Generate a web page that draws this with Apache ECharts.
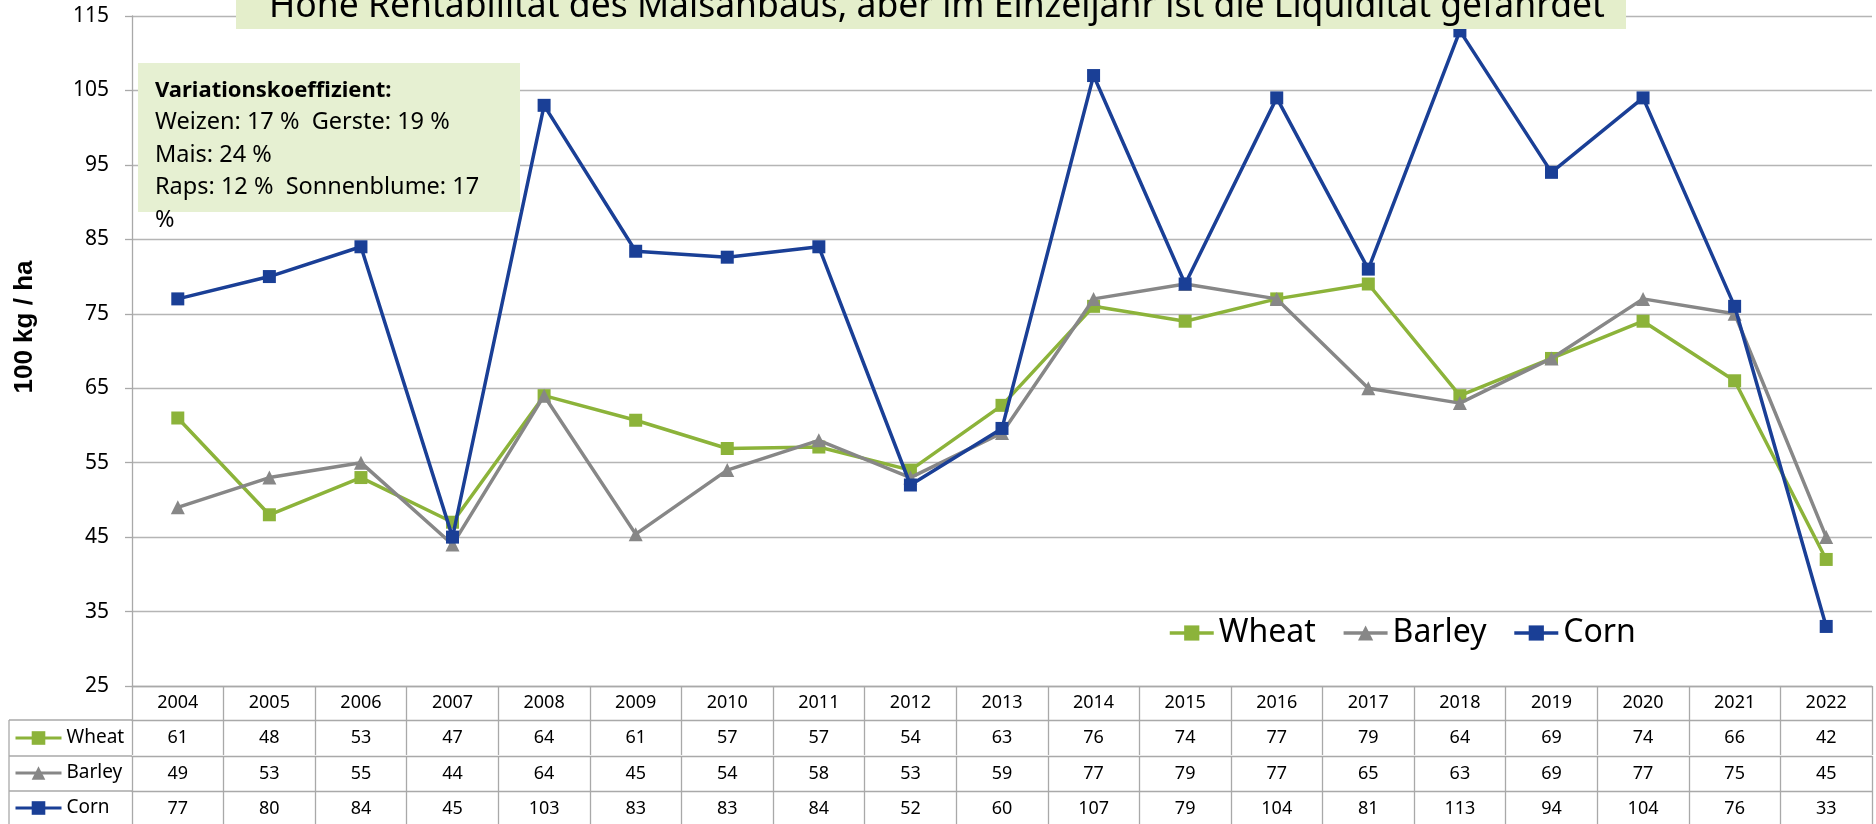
<!DOCTYPE html>
<html>
<head>
<meta charset="utf-8">
<script src="https://cdn.jsdelivr.net/npm/echarts@6/dist/echarts.min.js"></script>
<style>
html, body { margin: 0; padding: 0; background: #fff; }
#chart { width: 1876px; height: 824px; }
</style>
</head>
<body>
<div id="chart"></div>
<script>
// Ertrag in 100 kg / ha
var years = ['2004', '2005', '2006', '2007', '2008', '2009', '2010', '2011', '2012', '2013',
    '2014', '2015', '2016', '2017', '2018', '2019', '2020', '2021', '2022'];
var wheat = [61, 48, 53, 47, 64, 60.7, 56.9, 57.1, 54, 62.7, 76, 74, 77, 79, 64, 69, 74, 66, 42];
var barley = [49, 53, 55, 44, 64, 45.4, 54, 58, 53, 59, 77, 79, 77, 65, 63, 69, 77, 75, 45];
var corn = [77, 80, 84, 45, 103, 83.4, 82.6, 84, 52, 59.6, 107, 79, 104, 81, 113, 94, 104, 76, 33];

var names = ['Wheat', 'Barley', 'Corn'];
var colors = ['#8cb33a', '#878787', '#1a3f96'];

var titleText = 'Hohe Rentabilität des Maisanbaus, aber im Einzeljahr ist die Liquidität gefährdet';
var boxLines = ['Variationskoeffizient:', 'Weizen: 17 %  Gerste: 19 %', 'Mais: 24 %',
    'Raps: 12 %  Sonnenblume: 17', '%'];

var font = 'Noto Sans';
var gridCol = '#a9a9a9';
var rowMid = [738, 773, 808];

var myChart = echarts.init(document.getElementById('chart'));

// Tabellenzeile als zusaetzliche x-Achse
function tableAxis(values, offset) {
    return {
        type: 'category',
        position: 'bottom',
        offset: offset,
        data: values.map(function (v) { return String(Math.round(v)); }),
        axisLine: { show: true, lineStyle: { color: gridCol, width: 1.3 } },
        axisTick: { show: true, interval: 0, length: 35, lineStyle: { color: gridCol, width: 1.3 } },
        axisLabel: { interval: 0, margin: 9, color: '#000', fontSize: 18, fontFamily: font },
        splitLine: { show: false }
    };
}

function lineSeries(i, data, symbol, size) {
    return {
        name: names[i],
        type: 'line',
        data: data,
        symbol: symbol,
        symbolSize: size,
        color: colors[i],
        lineStyle: { width: 3.5, color: colors[i] },
        itemStyle: { color: colors[i] },
        z: 2 + i
    };
}

// Legende in der linken Tabellenspalte, eine pro Zeile
function rowLegend(i) {
    return {
        data: [names[i]],
        selectedMode: false,
        left: 14,
        top: rowMid[i] - 11,
        padding: 0,
        itemWidth: 46,
        itemHeight: 17,
        lineStyle: { width: 3 },
        textStyle: { fontSize: 19, lineHeight: 22, color: '#000', fontFamily: font }
    };
}

var option = {
    backgroundColor: '#fff',
    animation: false,
    textStyle: { fontFamily: font },
    grid: { left: 132, right: 4, top: 16, bottom: 138, containLabel: false, outerBoundsMode: 'none' },
    legend: [{
        data: names,
        selectedMode: false,
        left: 1168,
        top: 614,
        padding: 0,
        itemWidth: 44,
        itemHeight: 19,
        itemGap: 26,
        lineStyle: { width: 3.5 },
        textStyle: { fontSize: 32, lineHeight: 38, color: '#000', fontFamily: font }
    }, rowLegend(0), rowLegend(1), rowLegend(2)],
    xAxis: [{
        type: 'category',
        position: 'bottom',
        data: years,
        axisLine: { show: true, lineStyle: { color: gridCol, width: 1.3 } },
        axisTick: { show: true, interval: 0, length: 34, lineStyle: { color: gridCol, width: 1.3 } },
        axisLabel: { interval: 0, margin: 8, color: '#000', fontSize: 18, fontFamily: font },
        splitLine: { show: false }
    },
        tableAxis(wheat, 34),
        tableAxis(barley, 70),
        tableAxis(corn, 105)
    ],
    yAxis: {
        type: 'value',
        min: 25,
        max: 115,
        interval: 10,
        axisLine: { show: true, lineStyle: { color: gridCol, width: 1.3 } },
        axisTick: { show: true, length: 7, lineStyle: { color: gridCol, width: 1.3 } },
        axisLabel: { margin: 23, color: '#000', fontSize: 21, fontFamily: font },
        splitLine: { show: true, lineStyle: { color: '#b5b5b5', width: 1.3 } }
    },
    series: [
        lineSeries(0, wheat, 'rect', 13),
        lineSeries(1, barley, 'triangle', 14),
        lineSeries(2, corn, 'rect', 13)
    ],
    graphic: [
        // Titelkasten oben (abgeschnitten)
        { type: 'rect', z: 50, shape: { x: 236, y: -6, width: 1390, height: 35 }, style: { fill: '#e4eecb' } },
        { type: 'text', z: 51, x: 269, y: 7, style: { text: titleText, fill: '#000', fontSize: 35.5, fontFamily: font, align: 'left', verticalAlign: 'middle' } },
        // Variationskoeffizient
        { type: 'rect', z: 50, shape: { x: 138, y: 63, width: 382, height: 149 }, style: { fill: '#e6f0d2' } },
        {
            type: 'text', z: 51, x: 155, y: 74,
            style: {
                text: '{b|' + boxLines[0] + '}\n' + boxLines.slice(1).join('\n'),
                fill: '#000', fontSize: 23.5, fontFamily: font, lineHeight: 32.5,
                align: 'left', verticalAlign: 'top',
                rich: { b: { fontWeight: 'bold', fontSize: 22, lineHeight: 32.5, fontFamily: font } }
            }
        },
        // Achsentitel
        { type: 'text', x: 25, y: 327, rotation: Math.PI / 2, style: { text: '100 kg / ha', fill: '#000', fontSize: 26, fontWeight: 'bold', fontFamily: 'Liberation Sans', align: 'center', verticalAlign: 'middle' } },
        // linke Tabellenspalte
        { type: 'line', shape: { x1: 9, y1: 720, x2: 132, y2: 720 }, style: { stroke: gridCol, lineWidth: 1.3 } },
        { type: 'line', shape: { x1: 9, y1: 756, x2: 132, y2: 756 }, style: { stroke: gridCol, lineWidth: 1.3 } },
        { type: 'line', shape: { x1: 9, y1: 791, x2: 132, y2: 791 }, style: { stroke: gridCol, lineWidth: 1.3 } },
        { type: 'line', shape: { x1: 9, y1: 720, x2: 9, y2: 830 }, style: { stroke: gridCol, lineWidth: 1.3 } }
    ]
};

myChart.setOption(option);
</script>
</body>
</html>
